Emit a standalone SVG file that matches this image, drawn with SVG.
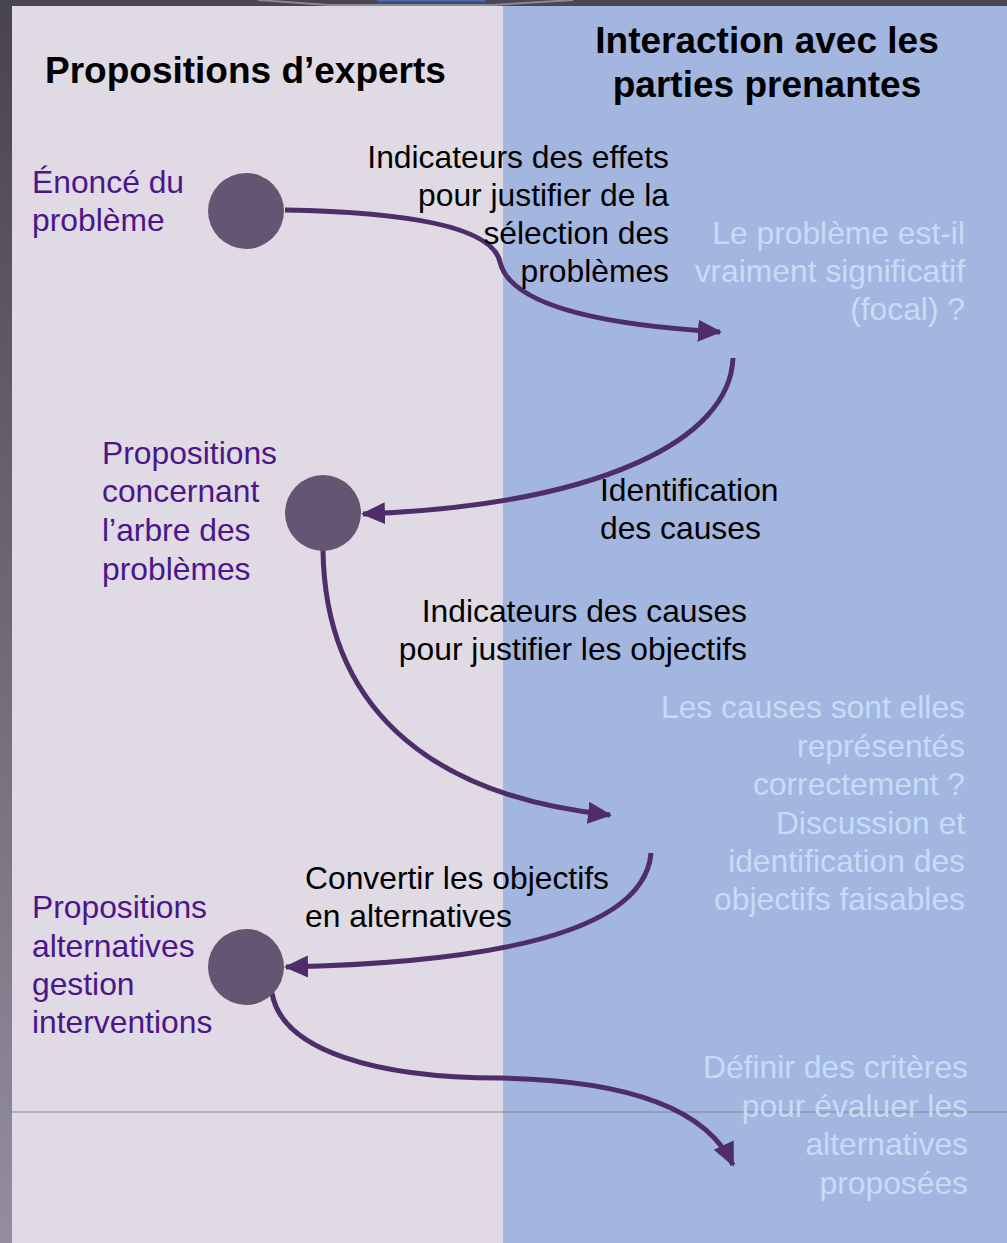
<svg xmlns="http://www.w3.org/2000/svg" width="1007" height="1243" viewBox="0 0 1007 1243">
<defs>
<linearGradient id="edge" x1="0" y1="0" x2="0" y2="1">
<stop offset="0" stop-color="#48444f"/>
<stop offset="1" stop-color="#928e9e"/>
</linearGradient>
<marker id="ah" markerUnits="userSpaceOnUse" markerWidth="26" markerHeight="24" refX="22" refY="11" orient="auto" viewBox="0 0 26 22">
<path d="M0,0 L24,11 L0,22 Z" fill="#4e2d6a"/>
</marker>
</defs>
<style>
.t{font-family:"Liberation Sans",Arial,sans-serif;}
.title{font-size:37px;font-weight:bold;fill:#000;}
.lab{font-size:31.8px;fill:#000;}
.pur{font-size:31.8px;fill:#4b168a;}
.lt{font-size:31.8px;fill:#c6dcf6;text-anchor:end;}
.node{fill:#645672;}
.con{fill:none;stroke:#4e2d6a;stroke-width:5;marker-end:url(#ah);}
</style>
<rect x="0" y="0" width="1007" height="1243" fill="#4a4656"/>
<rect x="0" y="0" width="12" height="1243" fill="url(#edge)"/>
<path d="M258,0 L328,5 L493,5 L573,0" fill="none" stroke="#8c8896" stroke-width="2"/>
<rect x="377" y="0" width="108" height="1.5" fill="#4a6ab0"/>
<rect x="12" y="6" width="491" height="1237" fill="#dfdae4"/>
<rect x="503" y="6" width="504" height="1237" fill="#a3b6e0"/>
<line x1="12" y1="1112" x2="1007" y2="1112" stroke="#8a8894" stroke-width="1.2"/>

<g id="titles" class="t">
<text class="title" x="45" y="83">Propositions d’experts</text>
<text class="title" x="767" y="53" text-anchor="middle">Interaction avec les</text>
<text class="title" x="767" y="97" text-anchor="middle">parties prenantes</text>
</g>

<g id="connectors">
<path class="con" d="M285,210 C400,212 492,225 500,262 C510,305 600,325 720,332"/>
<path class="con" d="M733,358 C730,440 600,505 363,514"/>
<path class="con" d="M323,550 C325,700 420,795 610,815"/>
<path class="con" d="M651,853 C645,925 520,962 286,967"/>
<path class="con" d="M272,993 C282,1052 380,1078 500,1078 C620,1080 705,1105 733,1165"/>
</g>

<g id="node-enonce">
<circle class="node" cx="246" cy="211" r="38"/>
<text class="t pur" x="32" y="193">Énoncé du</text>
<text class="t pur" x="32" y="231">problème</text>
</g>

<g id="node-arbre">
<circle class="node" cx="323" cy="513" r="38"/>
<text class="t pur" x="102" y="464">Propositions</text>
<text class="t pur" x="102" y="502">concernant</text>
<text class="t pur" x="102" y="541">l’arbre des</text>
<text class="t pur" x="102" y="580">problèmes</text>
</g>

<g id="node-alternatives">
<circle class="node" cx="246" cy="967" r="38"/>
<text class="t pur" x="32" y="918">Propositions</text>
<text class="t pur" x="32" y="957">alternatives</text>
<text class="t pur" x="32" y="995">gestion</text>
<text class="t pur" x="32" y="1033">interventions</text>
</g>

<g id="label-effets" class="t lab" text-anchor="end">
<text x="669" y="168">Indicateurs des effets</text>
<text x="669" y="206">pour justifier de la</text>
<text x="669" y="244">sélection des</text>
<text x="669" y="282">problèmes</text>
</g>

<g id="label-causes" class="t lab">
<text x="600" y="501">Identification</text>
<text x="600" y="539">des causes</text>
</g>

<g id="label-indic-causes" class="t lab" text-anchor="end">
<text x="747" y="622">Indicateurs des causes</text>
<text x="747" y="660">pour justifier les objectifs</text>
</g>

<g id="label-convertir" class="t lab">
<text x="305" y="889">Convertir les objectifs</text>
<text x="305" y="927">en alternatives</text>
</g>

<g id="q-probleme" class="t lt">
<text x="965" y="244">Le problème est-il</text>
<text x="965" y="282">vraiment significatif</text>
<text x="965" y="320">(focal) ?</text>
</g>

<g id="q-causes" class="t lt">
<text x="965" y="718">Les causes sont elles</text>
<text x="965" y="757">représentés</text>
<text x="965" y="795">correctement ?</text>
<text x="965" y="834">Discussion et</text>
<text x="965" y="872">identification des</text>
<text x="965" y="910">objectifs faisables</text>
</g>

<g id="q-criteres" class="t lt">
<text x="968" y="1078">Définir des critères</text>
<text x="968" y="1117">pour évaluer les</text>
<text x="968" y="1155">alternatives</text>
<text x="968" y="1194">proposées</text>
</g>
</svg>
